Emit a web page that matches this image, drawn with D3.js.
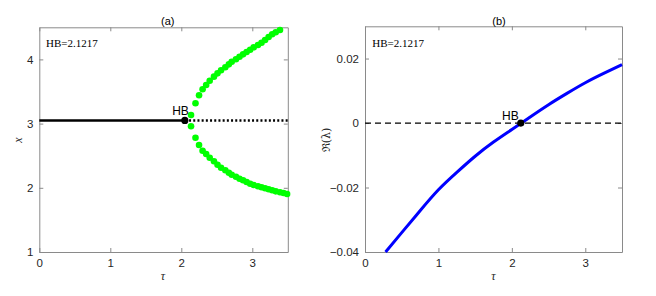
<!DOCTYPE html>
<html>
<head>
<meta charset="utf-8">
<script src="https://cdn.jsdelivr.net/npm/d3@7"></script>
<style>
  body { margin: 0; background: #fff; }
</style>
</head>
<body>
<script>
// panel (a): steady state and periodic branch
var steadyTau = [0, 2.05, 3.5];
var steadyX = 3.05;
var hbTauA = 2.05;
var upperTau = [2.137, 2.20, 2.25, 2.30, 2.35, 2.40, 2.46, 2.51, 2.56, 2.62, 2.67, 2.71, 2.77,
                2.82, 2.87, 2.92, 2.97, 3.02, 3.08, 3.13, 3.18, 3.23, 3.28, 3.33, 3.39];
var upperX = [3.134, 3.316, 3.441, 3.534, 3.601, 3.668, 3.731, 3.783, 3.830, 3.877, 3.923, 3.964, 4.002,
              4.042, 4.079, 4.115, 4.151, 4.189, 4.224, 4.260, 4.302, 4.349, 4.391, 4.422, 4.458];
var lowerTau = [2.137, 2.20, 2.25, 2.30, 2.35, 2.40, 2.46, 2.51, 2.56, 2.62, 2.67, 2.71, 2.77,
                2.82, 2.87, 2.92, 2.97, 3.02, 3.08, 3.13, 3.18, 3.23, 3.28, 3.33, 3.39, 3.44, 3.49];
var lowerX = [2.958, 2.780, 2.667, 2.578, 2.526, 2.469, 2.413, 2.360, 2.313, 2.273, 2.235, 2.204, 2.173,
              2.142, 2.117, 2.090, 2.064, 2.044, 2.023, 2.008, 1.992, 1.977, 1.961, 1.945, 1.930, 1.919, 1.903];

// panel (b): real part of eigenvalue
var lamTau = [0.28, 0.5, 0.75, 1.0, 1.25, 1.5, 1.75, 2.0, 2.25, 2.5, 2.75, 3.0, 3.25, 3.5];
var lamRe = [-0.0400, -0.0340, -0.0272, -0.0207, -0.0153, -0.0103, -0.0059, -0.0020,
             0.0019, 0.0057, 0.0092, 0.0125, 0.0154, 0.0181];
var hbTauB = 2.1217;

var xTicks = [0, 1, 2, 3];
var yTicksA = [1, 2, 3, 4];
var yTicksB = [-0.04, -0.02, 0, 0.02];

var sans = "Liberation Sans, Arial, sans-serif";
var serif = "Liberation Serif, Times New Roman, serif";

var width = 656, height = 296;
var svg = d3.select("body").append("svg")
  .attr("width", width).attr("height", height)
  .attr("font-family", sans);
svg.append("rect").attr("width", width).attr("height", height).attr("fill", "#fff");

function drawAxes(g, x, y, xt, yt, yfmt) {
  var x0 = x.range()[0], x1 = x.range()[1], y0 = y.range()[0], y1 = y.range()[1];
  g.append("g").attr("transform", "translate(0," + y0 + ")")
    .call(d3.axisBottom(x).tickValues(xt).tickSizeInner(-4).tickSizeOuter(0).tickPadding(7).tickFormat(d3.format("d")));
  g.append("g").attr("transform", "translate(0," + y1 + ")")
    .call(d3.axisTop(x).tickValues(xt).tickSizeInner(-4).tickSizeOuter(0).tickFormat(""));
  g.append("g").attr("transform", "translate(" + x0 + ",0)")
    .call(d3.axisLeft(y).tickValues(yt).tickSizeInner(-4).tickSizeOuter(0).tickPadding(6).tickFormat(yfmt));
  g.append("g").attr("transform", "translate(" + x1 + ",0)")
    .call(d3.axisRight(y).tickValues(yt).tickSizeInner(-4).tickSizeOuter(0).tickFormat(""));
  g.selectAll(".domain, .tick line").attr("stroke", "#8a8a8a").attr("stroke-width", 1);
  g.selectAll(".tick text").attr("font-size", "11.5px")
    .attr("font-family", sans).attr("fill", "#262626");
}

// ---------- panel (a)
var xa = d3.scaleLinear().domain([0, 3.5]).range([39.3, 287.8]);
var ya = d3.scaleLinear().domain([1, 4.5]).range([252, 27.3]);
var ga = svg.append("g");
drawAxes(ga, xa, ya, xTicks, yTicksA, d3.format("d"));

var lineA = d3.line().x(function(d) { return xa(d); }).y(function() { return ya(steadyX); });
ga.append("path").datum(steadyTau.slice(0, 2)).attr("d", lineA)
  .attr("stroke", "#000").attr("stroke-width", 2.5).attr("fill", "none");
ga.append("path").datum(steadyTau.slice(1)).attr("d", lineA)
  .attr("stroke", "#000").attr("stroke-width", 2.5).attr("fill", "none")
  .attr("stroke-dasharray", "2,2.2");

ga.selectAll("circle.up").data(upperTau).enter().append("circle")
  .attr("cx", function(d) { return xa(d); })
  .attr("cy", function(d, i) { return ya(upperX[i]); })
  .attr("r", 3.3).attr("fill", "#00ff00");
ga.selectAll("circle.low").data(lowerTau).enter().append("circle")
  .attr("cx", function(d) { return xa(d); })
  .attr("cy", function(d, i) { return ya(lowerX[i]); })
  .attr("r", 3.3).attr("fill", "#00ff00");

ga.append("circle").attr("cx", xa(hbTauA)).attr("cy", ya(steadyX)).attr("r", 3.6).attr("fill", "#000");
ga.append("text").text("HB").attr("x", xa(hbTauA) + 4).attr("y", ya(steadyX) - 5)
  .attr("text-anchor", "end").attr("font-size", "12px").attr("fill", "#000");
ga.append("text").text("HB=2.1217").attr("x", 46).attr("y", 46.7)
  .attr("font-family", serif).attr("font-size", "11px").attr("fill", "#000");
ga.append("text").text("(a)").attr("x", 167.8).attr("y", 24.5).attr("text-anchor", "middle")
  .attr("font-size", "11px").attr("fill", "#000");
ga.append("text").text("τ").attr("x", 163).attr("y", 280).attr("text-anchor", "middle")
  .attr("font-family", serif).attr("font-style", "italic").attr("font-size", "12px").attr("fill", "#262626");
ga.append("text").text("x").attr("transform", "translate(22,140) rotate(-90)").attr("text-anchor", "middle")
  .attr("font-family", serif).attr("font-style", "italic").attr("font-size", "12px").attr("fill", "#262626");

// ---------- panel (b)
var xb = d3.scaleLinear().domain([0, 3.5]).range([365, 622]);
var yb = d3.scaleLinear().domain([-0.04, 0.03]).range([252, 26.3]);
var gb = svg.append("g");
drawAxes(gb, xb, yb, xTicks, yTicksB, function(d) { return d === 0 ? "0" : d3.format(".2f")(d); });

gb.append("line").attr("x1", xb(0)).attr("x2", xb(3.5)).attr("y1", yb(0)).attr("y2", yb(0))
  .attr("stroke", "#000").attr("stroke-width", 1.3).attr("stroke-dasharray", "6,4");

gb.append("path").datum(lamTau)
  .attr("d", d3.line().curve(d3.curveNatural)
    .x(function(d) { return xb(d); })
    .y(function(d, i) { return yb(lamRe[i]); }))
  .attr("stroke", "#0000ff").attr("stroke-width", 3).attr("fill", "none");

gb.append("circle").attr("cx", xb(hbTauB)).attr("cy", yb(0)).attr("r", 3.6).attr("fill", "#000");
gb.append("text").text("HB").attr("x", xb(hbTauB) - 2).attr("y", yb(0) - 3)
  .attr("text-anchor", "end").attr("font-size", "12px").attr("fill", "#000");
gb.append("text").text("HB=2.1217").attr("x", 372.3).attr("y", 46.7)
  .attr("font-family", serif).attr("font-size", "11px").attr("fill", "#000");
gb.append("text").text("(b)").attr("x", 499).attr("y", 24.5).attr("text-anchor", "middle")
  .attr("font-size", "11px").attr("fill", "#000");
gb.append("text").text("τ").attr("x", 493.5).attr("y", 280).attr("text-anchor", "middle")
  .attr("font-family", serif).attr("font-style", "italic").attr("font-size", "12px").attr("fill", "#262626");
gb.append("text").text("ℜ(λ)").attr("transform", "translate(330,140) rotate(-90)").attr("text-anchor", "middle")
  .attr("font-family", "DejaVu Serif, Liberation Serif, serif").attr("font-size", "11px").attr("fill", "#262626");
</script>
</body>
</html>
